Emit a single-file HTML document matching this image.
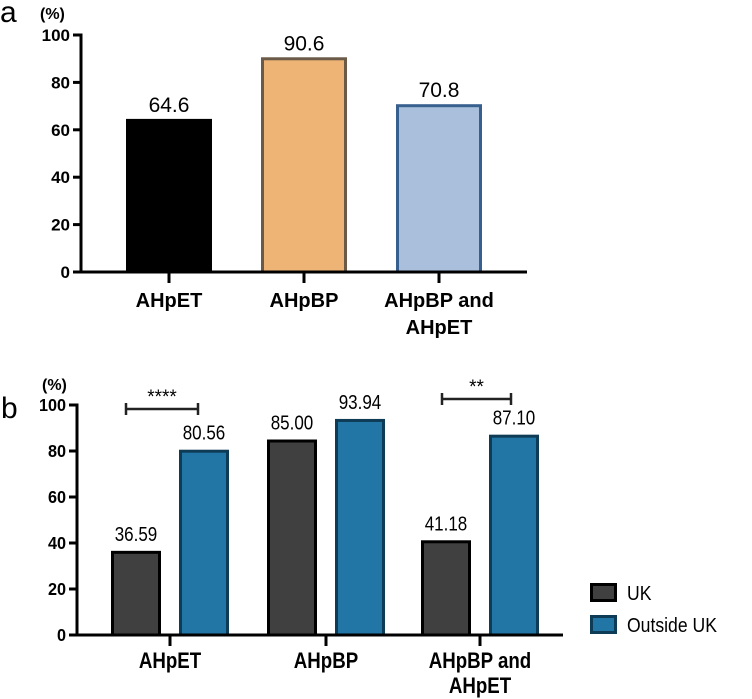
<!DOCTYPE html>
<html><head><meta charset="utf-8"><style>
body{margin:0;background:#fff;}
svg{display:block;font-family:"Liberation Sans",Arial,sans-serif;}
</style></head><body>
<svg id="chart" width="752" height="699" viewBox="0 0 752 699" xmlns="http://www.w3.org/2000/svg"></svg>
<script>
const catsA = ["AHpET", "AHpBP", "AHpBP and AHpET"];
const valsA = [64.6, 90.6, 70.8];
const labelsA = ["64.6", "90.6", "70.8"];
const catsB = ["AHpET", "AHpBP", "AHpBP and AHpET"];
const ukVals = [36.59, 85.00, 41.18];
const outVals = [80.56, 93.94, 87.10];
const ukLabels = ["36.59", "85.00", "41.18"];
const outLabels = ["80.56", "93.94", "87.10"];
const ticks = [0, 20, 40, 60, 80, 100];
const seriesNames = ["UK", "Outside UK"];

const NS = "http://www.w3.org/2000/svg";
const svg = document.getElementById("chart");
function mk(tag, attrs, parent, text) {
  const e = document.createElementNS(NS, tag);
  for (const k in attrs) e.setAttribute(k, attrs[k]);
  if (text !== undefined) e.textContent = text;
  (parent || svg).appendChild(e);
  return e;
}
function narrow(cx, s) { return "translate(" + cx + ",0) scale(" + s + ",1) translate(" + (-cx) + ",0)"; }

// ---------- Panel a ----------
const gA = mk("g", {});


const ayA = v => 272 - v * 2.37;
const axA0 = 81, axA1 = 527;
const centersA = [169, 304, 439];
const bwA = 86;
let t = mk("text", {x: 0, y: 22, "font-size": 30}, gA, "a");


t = mk("text", {x: 40, y: 19, "font-size": 16, "font-weight": "bold"}, gA, "(%)");


ticks.forEach(v => {
  const y = ayA(v);
  const l = mk("line", {x1: axA0 - 8, x2: axA0, y1: y, y2: y, stroke: "#000", "stroke-width": 3}, gA);
  
  
  const tx = mk("text", {x: axA0 - 11, y: y + 6, "font-size": 17, "font-weight": "bold", "text-anchor": "end"}, gA, String(v));
  
  
});
const fillsA = ["#000000", "#EDB476", "#A9BFDB"];
const strokesA = ["#000000", "#6B5A48", "#37608E"];
valsA.forEach((v, i) => {
  const x = centersA[i] - bwA / 2;
  const r = mk("rect", {x: x + 1.5, y: ayA(v) + 1.5, width: bwA - 3, height: ayA(0) - ayA(v) - 1.5, fill: fillsA[i], stroke: strokesA[i], "stroke-width": 3}, gA);
  
  
  const tx = mk("text", {x: centersA[i], y: ayA(v) - 7, "font-size": 21, "text-anchor": "middle"}, gA, labelsA[i]);
  
  
  const tk = mk("line", {x1: centersA[i], x2: centersA[i], y1: ayA(0), y2: ayA(0) + 11, stroke: "#000", "stroke-width": 3}, gA);
  
  
});
let ln = mk("line", {x1: axA0, x2: axA0, y1: ayA(100) - 1.5, y2: ayA(0) + 1.5, stroke: "#000", "stroke-width": 3}, gA);


ln = mk("line", {x1: axA0 - 8, x2: axA1, y1: ayA(0), y2: ayA(0), stroke: "#000", "stroke-width": 3}, gA);


catsA.forEach((c, i) => {
  const parts = c === "AHpBP and AHpET" ? ["AHpBP and", "AHpET"] : [c];
  parts.forEach((p, j) => {
    const tx = mk("text", {x: centersA[i], y: 307 + j * 27, "font-size": 20, "font-weight": "bold", "text-anchor": "middle"}, gA, p);
    
    
  });
});

// ---------- Panel b ----------
const gB = mk("g", {});


const ayB = v => 635 - v * 2.3;
const axB0 = 77, axB1 = 563;
const centersB = [170, 326, 480];
const bwB = 50, offB = 34;
t = mk("text", {x: 1, y: 418, "font-size": 30}, gB, "b");


t = mk("text", {x: 42, y: 390, "font-size": 16, "font-weight": "bold"}, gB, "(%)");


ticks.forEach(v => {
  const y = ayB(v);
  const l = mk("line", {x1: axB0 - 8, x2: axB0, y1: y, y2: y, stroke: "#000", "stroke-width": 3}, gB);
  
  
  const tx = mk("text", {x: axB0 - 11, y: y + 6, "font-size": 18, "font-weight": "bold", "text-anchor": "end", transform: narrow(axB0 - 11, 0.9)}, gB, String(v));
  
  
});
function barB(v, cx, fill, stroke, label, name) {
  const r = mk("rect", {x: cx - bwB / 2 + 1.5, y: ayB(v) + 1.5, width: bwB - 3, height: ayB(0) - ayB(v) - 1.5, fill: fill, stroke: stroke, "stroke-width": 3}, gB);
  
  
  const tx = mk("text", {x: cx, y: ayB(v) - 10, "font-size": 20, "text-anchor": "middle", transform: narrow(cx, 0.85)}, gB, label);
  
  
}
ukVals.forEach((v, i) => barB(v, centersB[i] - offB, "#404040", "#000000", ukLabels[i], 'bar-uk-' + (i + 1)));
outVals.forEach((v, i) => barB(v, centersB[i] + offB, "#2176A5", "#0E3B55", outLabels[i], 'bar-outside-' + (i + 1)));
centersB.forEach(cx => {
  const tk = mk("line", {x1: cx, x2: cx, y1: ayB(0), y2: ayB(0) + 11, stroke: "#000", "stroke-width": 3}, gB);
  
  
});
ln = mk("line", {x1: axB0, x2: axB0, y1: ayB(100) - 1.5, y2: ayB(0) + 1.5, stroke: "#000", "stroke-width": 3}, gB);


ln = mk("line", {x1: axB0 - 8, x2: axB1, y1: ayB(0), y2: ayB(0), stroke: "#000", "stroke-width": 3}, gB);


catsB.forEach((c, i) => {
  const parts = c === "AHpBP and AHpET" ? ["AHpBP and", "AHpET"] : [c];
  parts.forEach((p, j) => {
    const tx = mk("text", {x: centersB[i], y: 668 + j * 25, "font-size": 22, "font-weight": "bold", "text-anchor": "middle", transform: narrow(centersB[i], 0.85)}, gB, p);
    
    
  });
});
// significance brackets
function bracket(x1, x2, y, txt, name) {
  const g = mk("g", {stroke: "#222", "stroke-width": 2.5}, gB);
  
  
  mk("line", {x1: x1, x2: x2, y1: y, y2: y}, g);
  mk("line", {x1: x1, x2: x1, y1: y - 6, y2: y + 6}, g);
  mk("line", {x1: x2, x2: x2, y1: y - 6, y2: y + 6}, g);
  const tx = mk("text", {x: (x1 + x2) / 2, y: y - 6, "font-size": 19, "text-anchor": "middle", stroke: "none", fill: "#000"}, gB, txt);
  
  
}
bracket(126, 198, 409, "****", 'significance-ahpet');
bracket(442, 511, 399, "**", 'significance-combined');
// legend
const legFill = ["#404040", "#2176A5"], legStroke = ["#000", "#0E3B55"];
seriesNames.forEach((n, i) => {
  const y = 583 + i * 32;
  const g = mk("g", {}, svg);
  
  
  mk("rect", {x: 591.5, y: y + 1.5, width: 24, height: 16, fill: legFill[i], stroke: legStroke[i], "stroke-width": 3}, g);
  mk("text", {x: 627, y: y + 17, "font-size": 20, transform: narrow(627, 0.88)}, g, n);
});
</script>
</body></html>
